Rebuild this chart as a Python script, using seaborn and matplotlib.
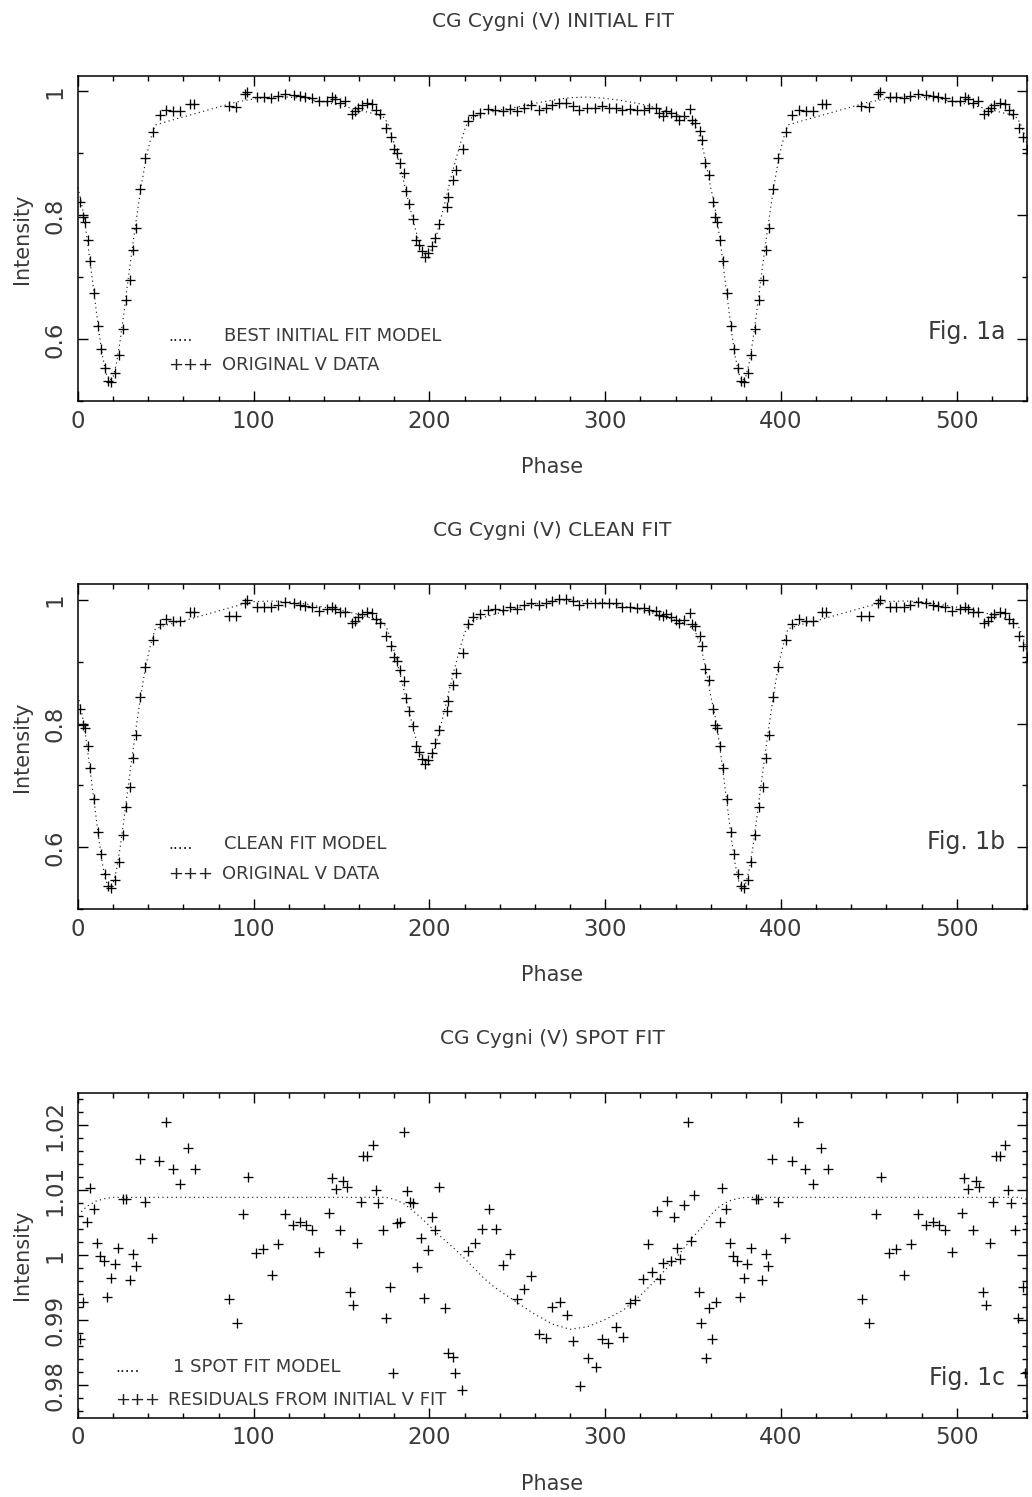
import numpy as np
import matplotlib
matplotlib.use("Agg")
import matplotlib.pyplot as plt
import seaborn as sns
from matplotlib.ticker import MultipleLocator, FuncFormatter

# ---------------- data (one cycle, phase 0-360; plotted again at +360) ----------------
phase = [1.3, 2.7, 3.8, 5.5, 7.0, 9.3, 11.4, 13.3, 15.5, 17.1, 19.0, 21.2, 23.1, 25.4, 27.5,
         29.8, 31.3, 33.2, 35.4, 38.3, 42.7, 46.4, 50.0, 54.0, 58.2, 63.5, 65.8, 85.7, 90.0,
         95.2, 96.1, 101.8, 105.6, 109.8, 113.6, 117.9, 122.7, 126.4, 129.3, 133.1, 137.4,
         141.6, 144.5, 146.4, 149.2, 152.0, 155.8, 157.7, 159.6, 161.5, 164.4, 167.2, 169.7,
         172.0, 175.4, 178.0, 179.9, 181.8, 183.3, 185.6, 186.7, 188.6, 190.9, 192.4, 194.3,
         195.6, 197.5, 199.4, 201.3, 203.2, 205.7, 209.9, 210.8, 213.3, 215.2, 218.9, 222.1,
         225.0, 228.8, 233.5, 237.3, 241.9, 245.8, 249.7, 253.9, 257.8, 262.2, 266.1, 269.9,
         273.8, 277.6, 281.5, 285.3, 289.8, 294.0, 297.9, 302.1, 306.0, 309.8, 314.3, 318.1,
         322.0, 324.9, 328.7, 330.7, 332.6, 334.5, 337.4, 340.3, 342.2, 345.1, 348.0, 349.6,
         350.9, 353.8, 355.0, 356.9, 359.2]
v_original = [0.821, 0.798, 0.790, 0.760, 0.726, 0.674, 0.622, 0.585, 0.553, 0.533, 0.531,
              0.545, 0.574, 0.616, 0.663, 0.696, 0.744, 0.780, 0.842, 0.892, 0.935, 0.962,
              0.970, 0.968, 0.969, 0.980, 0.980, 0.976, 0.975, 0.996, 0.999, 0.991, 0.991,
              0.989, 0.992, 0.996, 0.994, 0.992, 0.991, 0.989, 0.984, 0.985, 0.991, 0.988,
              0.982, 0.984, 0.964, 0.968, 0.973, 0.978, 0.981, 0.980, 0.970, 0.964, 0.941,
              0.927, 0.907, 0.901, 0.884, 0.868, 0.840, 0.819, 0.794, 0.760, 0.752, 0.742,
              0.733, 0.739, 0.751, 0.763, 0.786, 0.814, 0.830, 0.857, 0.873, 0.907, 0.952,
              0.962, 0.965, 0.971, 0.970, 0.969, 0.971, 0.968, 0.973, 0.978, 0.970, 0.973,
              0.978, 0.982, 0.981, 0.977, 0.970, 0.974, 0.973, 0.976, 0.974, 0.973, 0.970,
              0.972, 0.970, 0.970, 0.974, 0.973, 0.966, 0.961, 0.968, 0.965, 0.961, 0.954,
              0.961, 0.971, 0.954, 0.949, 0.937, 0.922, 0.884, 0.865]
v_clean = [0.823, 0.798, 0.793, 0.764, 0.729, 0.678, 0.625, 0.589, 0.557, 0.537, 0.534,
           0.548, 0.576, 0.620, 0.666, 0.697, 0.745, 0.781, 0.843, 0.892, 0.935, 0.961,
           0.969, 0.966, 0.966, 0.980, 0.980, 0.973, 0.973, 0.995, 1.000, 0.989, 0.989,
           0.989, 0.992, 0.996, 0.994, 0.992, 0.990, 0.988, 0.982, 0.985, 0.989, 0.985,
           0.980, 0.981, 0.962, 0.966, 0.972, 0.977, 0.980, 0.978, 0.969, 0.962, 0.941,
           0.926, 0.907, 0.901, 0.886, 0.868, 0.841, 0.820, 0.796, 0.763, 0.754, 0.742,
           0.734, 0.741, 0.753, 0.768, 0.790, 0.820, 0.836, 0.862, 0.881, 0.914, 0.961,
           0.972, 0.977, 0.983, 0.985, 0.984, 0.988, 0.985, 0.991, 0.995, 0.991, 0.994,
           0.998, 1.002, 1.002, 0.998, 0.991, 0.995, 0.994, 0.995, 0.994, 0.994, 0.988,
           0.989, 0.987, 0.986, 0.984, 0.982, 0.975, 0.973, 0.977, 0.972, 0.967, 0.963,
           0.967, 0.978, 0.961, 0.957, 0.941, 0.925, 0.888, 0.870]

res_phase = [0.95, 2.8, 5.1, 6.6, 8.9, 10.8, 12.7, 14.8, 16.5, 19.0, 20.9, 22.8, 25.6, 27.2,
             29.4, 31.3, 32.9, 35.1, 38.4, 42.2, 46.2, 49.8, 53.8, 58.3, 62.7, 66.5, 86.0,
             90.2, 94.0, 96.9, 101.2, 105.4, 110.2, 114.0, 117.8, 122.5, 126.3, 129.7, 133.3,
             137.3, 142.8, 144.3, 146.6, 149.1, 151.0, 152.9, 154.8, 156.7, 159.0, 160.9,
             162.4, 164.7, 167.7, 169.4, 170.9, 173.4, 175.1, 177.6, 179.1, 181.4, 183.3,
             185.6, 187.1, 189.0, 190.9, 192.8, 195.1, 197.0, 199.4, 201.3, 203.2, 205.3,
             208.9, 210.8, 213.3, 214.6, 218.4, 222.2, 226.0, 229.8, 233.6, 238.0, 241.9,
             245.8, 249.7, 253.9, 257.8, 262.2, 266.1, 269.9, 274.3, 278.2, 281.5, 285.7,
             290.2, 294.6, 297.9, 301.7, 306.0, 310.0, 313.9, 317.2, 321.4, 324.3, 326.8,
             329.3, 331.1, 332.6, 335.1, 337.4, 339.0, 340.7, 342.8, 344.7, 347.3, 348.6,
             350.3, 353.2, 354.4, 357.3, 359.2]
residual = [0.98718, 0.99282, 1.00518, 1.01041, 1.00708, 1.00185, 0.99990, 0.99913, 0.99364,
            0.99656, 0.99862, 1.00118, 1.00872, 1.00872, 0.99621, 1.00015, 0.99836, 1.01487,
            1.00821, 1.00272, 1.01451, 1.02056, 1.01323, 1.01092, 1.01656, 1.01323, 0.99323,
            0.98954, 1.00631, 1.01210, 1.00031, 1.00103, 0.99697, 1.00169, 1.00631, 1.00467,
            1.00513, 1.00467, 1.00390, 1.00056, 1.00656, 1.01195, 1.01015, 1.00390, 1.01144,
            1.01051, 0.99436, 0.99231, 1.00195, 1.00826, 1.01528, 1.01528, 1.01697, 1.01005,
            1.00800, 1.00385, 0.99031, 0.99513, 0.98185, 1.00503, 1.00518, 1.01897, 1.00980,
            1.00826, 1.00810, 0.99821, 1.00272, 0.99338, 1.00082, 1.00595, 1.00390, 1.01051,
            0.99195, 0.98503, 0.98441, 0.98195, 0.97928, 1.00067, 1.00195, 1.00400, 1.00718,
            1.00400, 0.99846, 1.00026, 0.99323, 0.99477, 0.99682, 0.98785, 0.98733, 0.99205,
            0.99287, 0.99077, 0.98682, 0.97990, 0.98426, 0.98287, 0.98718, 0.98656, 0.98903,
            0.98749, 0.99262, 0.99308, 0.99641, 1.00179, 0.99744, 1.00682, 0.99631, 0.99877,
            1.00836, 0.99913, 1.00595, 1.00118, 0.99938, 1.00769, 1.02056, 1.00221, 1.00923,
            0.99436, 0.98954, 0.98415, 0.99185]

model_phase = [0, 2, 4, 6, 8, 10, 12, 14, 16, 18, 20, 22, 24, 26, 28, 30, 32, 34, 36, 38, 40,
               42, 44, 50, 60, 70, 80, 90, 100, 110, 120, 130, 140, 150, 160, 170, 174, 176,
               178, 180, 182, 184, 186, 188, 190, 192, 194, 196, 198, 200, 202, 204, 206, 208,
               210, 212, 214, 216, 218, 220, 222, 224, 230, 240, 250, 260, 270, 280, 290, 300,
               310, 320, 330, 340, 346, 350, 352, 354, 356, 358]
initial_model = [0.845, 0.820, 0.787, 0.745, 0.700, 0.655, 0.610, 0.572, 0.545, 0.533, 0.540,
                 0.563, 0.598, 0.640, 0.685, 0.728, 0.770, 0.810, 0.848, 0.880, 0.908, 0.930,
                 0.946, 0.951, 0.959, 0.967, 0.975, 0.983, 0.988, 0.991, 0.991, 0.988, 0.983,
                 0.977, 0.970, 0.963, 0.958, 0.950, 0.935, 0.915, 0.893, 0.870, 0.847, 0.823,
                 0.800, 0.778, 0.758, 0.743, 0.736, 0.739, 0.750, 0.768, 0.790, 0.812, 0.835,
                 0.858, 0.880, 0.900, 0.920, 0.938, 0.952, 0.958, 0.963, 0.970, 0.975, 0.981,
                 0.986, 0.990, 0.991, 0.989, 0.985, 0.980, 0.973, 0.964, 0.957, 0.948, 0.940,
                 0.925, 0.903, 0.875]
clean_model = [0.845, 0.820, 0.787, 0.745, 0.700, 0.655, 0.610, 0.572, 0.545, 0.535, 0.542,
               0.565, 0.600, 0.642, 0.687, 0.730, 0.772, 0.812, 0.850, 0.884, 0.912, 0.935,
               0.953, 0.959, 0.966, 0.974, 0.982, 0.990, 0.997, 0.998, 0.997, 0.993, 0.988,
               0.983, 0.976, 0.968, 0.962, 0.952, 0.936, 0.916, 0.894, 0.871, 0.848, 0.824,
               0.801, 0.779, 0.759, 0.744, 0.737, 0.740, 0.751, 0.769, 0.792, 0.815, 0.839,
               0.863, 0.886, 0.907, 0.928, 0.946, 0.960, 0.966, 0.971, 0.979, 0.987, 0.993,
               0.998, 0.999, 0.998, 0.995, 0.990, 0.984, 0.976, 0.967, 0.961, 0.953, 0.944,
               0.928, 0.905, 0.877]

spot_phase = [0, 5, 10, 15, 20, 40, 80, 120, 160, 175, 180, 185, 190, 195, 200, 205, 210, 215,
              220, 225, 230, 235, 240, 250, 260, 270, 280, 290, 300, 310, 320, 330, 340, 350,
              355]
spot_model = [1.0062, 1.0075, 1.0083, 1.0087, 1.0089, 1.0089, 1.0089, 1.0089, 1.0089, 1.0089,
              1.0086, 1.0080, 1.0070, 1.0058, 1.0045, 1.0032, 1.0020, 1.0008, 0.9995, 0.9981,
              0.9967, 0.9955, 0.9945, 0.9927, 0.9909, 0.9894, 0.9886, 0.9890, 0.9901, 0.9915,
              0.9938, 0.9965, 0.9995, 1.0028, 1.0043]

titles = ["CG Cygni (V) INITIAL FIT", "CG Cygni (V) CLEAN FIT", "CG Cygni (V) SPOT FIT"]
model_labels = ["BEST INITIAL FIT MODEL", "CLEAN FIT MODEL", "1 SPOT FIT MODEL"]
data_labels = ["ORIGINAL V DATA", "ORIGINAL V DATA", "RESIDUALS FROM INITIAL V FIT"]
fig_labels = ["Fig. 1a", "Fig. 1b", "Fig. 1c"]

# ---------------- style ----------------
sns.set_theme(style="ticks")
plt.rcParams["font.family"] = ["DejaVu Sans"]
TXT = "#3a3a3a"

W, H = 1032, 1497
fig = plt.figure(figsize=(W / 100, H / 100), dpi=100)
fig.patch.set_facecolor("white")


def add_axes(top_px, bottom_px):
    return fig.add_axes([78 / W, 1 - bottom_px / H, (1027 - 78) / W, (bottom_px - top_px) / H])


def wrap(x, y):
    x = np.asarray(x, float)
    y = np.asarray(y, float)
    m = x + 360 <= 545
    return np.concatenate([x, x[m] + 360]), np.concatenate([y, y[m]])


axes = [add_axes(76, 401.3), add_axes(584.3, 909.3), add_axes(1092.7, 1417.7)]

series = [
    (phase, v_original, model_phase, initial_model),
    (phase, v_clean, model_phase, clean_model),
    (res_phase, residual, spot_phase, spot_model),
]

# legend/annotation positions in axes coordinates
leg_pos = [
    dict(dots=(0.0948, 0.185), mtxt=(0.154, 0.185), plus=(0.0948, 0.095), dtxt=(0.152, 0.095)),
    dict(dots=(0.0948, 0.185), mtxt=(0.154, 0.185), plus=(0.0948, 0.092), dtxt=(0.152, 0.092)),
    dict(dots=(0.0390, 0.142), mtxt=(0.100, 0.142), plus=(0.0390, 0.040), dtxt=(0.095, 0.040)),
]
fig_pos = [(0.977, 0.191), (0.977, 0.185), (0.977, 0.101)]

for i, ax in enumerate(axes):
    px, py, mx, my = series[i]
    mx2, my2 = wrap(mx, my)
    px2, py2 = wrap(px, py)
    sns.lineplot(x=mx2, y=my2, ax=ax, color="#222222", linewidth=0.85,
                 linestyle=(0, (1, 2.8)), estimator=None, sort=False)
    sns.scatterplot(x=px2, y=py2, ax=ax, marker="+", s=60, color="black",
                    linewidth=0.95, zorder=3)

    ax.set_xlim(0, 540)
    if i < 2:
        ax.set_ylim(0.5, 1.025)
        ax.yaxis.set_major_locator(MultipleLocator(0.2))
        ax.yaxis.set_minor_locator(MultipleLocator(0.1))
    else:
        ax.set_ylim(0.975, 1.025)
        ax.yaxis.set_major_locator(MultipleLocator(0.01))
        ax.yaxis.set_minor_locator(MultipleLocator(0.002))
    ax.xaxis.set_major_locator(MultipleLocator(100))
    ax.xaxis.set_minor_locator(MultipleLocator(20))
    ax.xaxis.set_major_formatter(FuncFormatter(lambda v, p: f"{round(v):d}"))
    ax.yaxis.set_major_formatter(FuncFormatter(lambda v, p: f"{round(v, 4):g}"))

    ax.tick_params(which="both", direction="in", top=True, right=True, color="black",
                   width=1.0, labelcolor=TXT, labelsize=16.5)
    ax.tick_params(which="major", length=7.5)
    ax.tick_params(which="minor", length=3.8)
    ax.tick_params(axis="x", pad=6)
    ax.tick_params(axis="y", pad=8, labelrotation=90)
    for t in ax.yaxis.get_major_ticks():
        t.label1.set_va("center")
    for sp in ax.spines.values():
        sp.set_color("black")
        sp.set_linewidth(1.1)

    ax.set_xlabel("Phase", fontsize=15, color=TXT)
    ax.set_ylabel("Intensity", fontsize=15, color=TXT)
    ax.xaxis.set_label_coords(0.5, -66 / 325)
    ax.xaxis.label.set_va("center")
    ax.yaxis.set_label_coords(-(78 - 22) / 949, 0.5)
    ax.yaxis.label.set_va("center")

    ax.text(0.5, 1 + 54 / 325, titles[i], transform=ax.transAxes, ha="center", va="center",
            fontsize=14.5, color=TXT)

    lp = leg_pos[i]
    ax.text(*lp["dots"], ".....", transform=ax.transAxes, ha="left", va="baseline",
            fontsize=11, color="#222222")
    ax.text(*lp["mtxt"], model_labels[i], transform=ax.transAxes, ha="left", va="baseline",
            fontsize=13, color=TXT)
    ax.text(*lp["plus"], "+++", transform=ax.transAxes, ha="left", va="baseline",
            fontsize=13, color="#222222")
    ax.text(*lp["dtxt"], data_labels[i], transform=ax.transAxes, ha="left", va="baseline",
            fontsize=13, color=TXT)
    ax.text(*fig_pos[i], fig_labels[i], transform=ax.transAxes, ha="right", va="baseline",
            fontsize=17, color=TXT)

fig.savefig("out.png", dpi=100, facecolor="white")
